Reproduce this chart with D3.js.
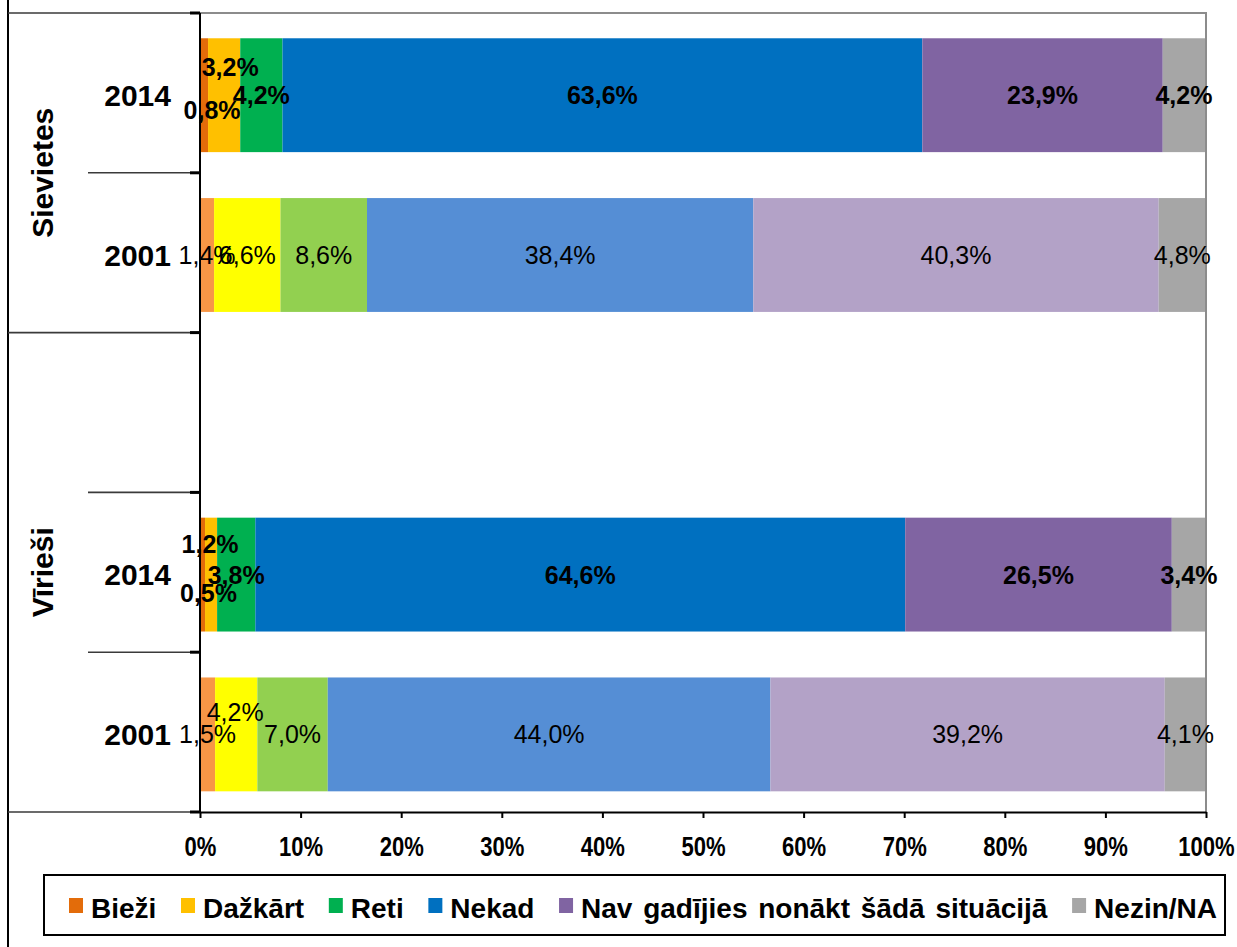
<!DOCTYPE html>
<html>
<head>
<meta charset="utf-8">
<script src="https://cdn.jsdelivr.net/npm/d3@7"></script>
<style>
  body { margin: 0; background: #fff; }
  svg { display: block; }
  text { font-family: Arial, "Liberation Sans", sans-serif; fill: #000; }
</style>
</head>
<body>
<svg id="chart"></svg>
<script>
// answer categories (legend order)
var categories = ["Bieži", "Dažkārt", "Reti", "Nekad", "Nav gadījies nonākt šādā situācijā", "Nezin/NA"];

// rows of the category axis, top to bottom (third row is an empty slot)
var rowGroups = ["Sievietes", "Sievietes", "Vīrieši", "Vīrieši", "Vīrieši"];
var rowYears = ["2014", "2001", "", "2014", "2001"];

// shares in %
var sievietes2014 = [0.8, 3.2, 4.2, 63.6, 23.9, 4.2];
var sievietes2001 = [1.4, 6.6, 8.6, 38.4, 40.3, 4.8];
var viriesi2014 = [0.5, 1.2, 3.8, 64.6, 26.5, 3.4];
var viriesi2001 = [1.5, 4.2, 7.0, 44.0, 39.2, 4.1];
var rowValues = [sievietes2014, sievietes2001, null, viriesi2014, viriesi2001];

var xTicks = [0, 10, 20, 30, 40, 50, 60, 70, 80, 90, 100];

// colours
var colors2014 = ["#E36C0A", "#FFC000", "#00B050", "#0070C0", "#8064A2", "#A6A6A6"];
var colors2001 = ["#F79646", "#FFFF00", "#92D050", "#558ED5", "#B3A2C7", "#A6A6A6"];

// hand-moved labels of the thin segments (dx, dy in px)
var labelNudges = {
  "0|Bieži": [8, 15],
  "0|Dažkārt": [6, -28],
  "3|Bieži": [6, 18],
  "3|Dažkārt": [-1, -31],
  "4|Dažkārt": [-1, -22]
};

var width = 1237, height = 947;
var plot = {left: 200, right: 1206, top: 13, bottom: 812};

var svg = d3.select("#chart")
    .attr("width", width)
    .attr("height", height);

var x = d3.scaleLinear()
    .domain([0, 100])
    .range([plot.left, plot.right])
    .clamp(true);

var y = d3.scaleBand()
    .domain(d3.range(rowYears.length))
    .range([plot.top, plot.bottom])
    .paddingInner(0.2875)
    .paddingOuter(0.14375)
    .align(0.55);

// row boundaries of the category axis
var rowEdge = d3.scaleLinear()
    .domain([0, rowYears.length])
    .range([plot.top, plot.bottom]);

// build the table for the stack
var table = [];
rowValues.forEach(function(v, i) {
  if (!v) return;
  var o = {row: i};
  categories.forEach(function(c, j) { o[c] = v[j]; });
  table.push(o);
});

var series = d3.stack().keys(categories)(table);

// flat list of segments
var segments = [];
series.forEach(function(s) {
  s.forEach(function(d) { segments.push({d: d, j: s.index, key: s.key, row: d.data.row}); });
});

var fmt = d3.format(".1f");
function pct(v) { return fmt(v).replace(".", ",") + "%"; }

// bars
svg.append("g").selectAll("rect")
    .data(segments)
  .enter().append("rect")
    .attr("x", function(e) { return x(e.d[0]); })
    .attr("width", function(e) { return x(e.d[1]) - x(e.d[0]); })
    .attr("y", function(e) { return y(e.row); })
    .attr("height", y.bandwidth())
    .attr("fill", function(e) {
      return rowYears[e.row] == "2014" ? colors2014[e.j] : colors2001[e.j];
    });

// plot area border (top, right)
svg.append("path")
    .attr("d", "M" + plot.left + "," + plot.top + "H" + plot.right + "V" + plot.bottom)
    .attr("fill", "none")
    .attr("stroke", "#8c8c8c")
    .attr("stroke-width", 2);

// data labels, drawn after all the bars
svg.append("g").selectAll("text")
    .data(segments)
  .enter().append("text")
    .attr("x", function(e) {
      var n = labelNudges[e.row + "|" + e.key];
      return (x(e.d[0]) + x(e.d[1])) / 2 + (n ? n[0] : 0);
    })
    .attr("y", function(e) {
      var n = labelNudges[e.row + "|" + e.key];
      return y(e.row) + y.bandwidth() / 2 + (n ? n[1] : 0);
    })
    .attr("dy", "0.36em")
    .attr("text-anchor", "middle")
    .style("font-size", "25px")
    .style("font-weight", function(e) { return rowYears[e.row] == "2014" ? "bold" : "normal"; })
    .text(function(e) { return pct(e.d.data[e.key]); });

// x axis
var xAxis = svg.append("g")
    .attr("transform", "translate(0," + plot.bottom + ")")
    .call(d3.axisBottom(x).tickValues(xTicks).tickSize(6).tickSizeOuter(0)
      .tickFormat(function(d) { return d + "%"; }));

xAxis.select(".domain").attr("stroke", "#000").attr("stroke-width", 2);
xAxis.selectAll(".tick line").attr("stroke", "#000").attr("stroke-width", 2);
xAxis.selectAll(".tick text")
    .attr("y", null)
    .attr("dy", null)
    .attr("transform", "translate(0,44) scale(1.05,1.3)")
    .style("font-size", "21px")
    .style("font-weight", "bold")
    .style("font-family", "Arial, 'Liberation Sans', sans-serif");

// category axis
var cat = svg.append("g");

cat.append("line")
    .attr("x1", plot.left).attr("x2", plot.left)
    .attr("y1", plot.top).attr("y2", plot.bottom)
    .attr("stroke", "#000").attr("stroke-width", 2);

// outer frame line
cat.append("line")
    .attr("x1", 8).attr("x2", 8)
    .attr("y1", 0).attr("y2", height)
    .attr("stroke", "#000").attr("stroke-width", 2);

d3.range(rowYears.length + 1).forEach(function(i) {
  var yy = rowEdge(i);
  var groupEdge = i == 0 || i == rowYears.length || rowGroups[i] != rowGroups[i - 1];
  cat.append("line")
      .attr("x1", groupEdge ? 8 : 88).attr("x2", plot.left)
      .attr("y1", yy).attr("y2", yy)
      .attr("stroke", "#3a3a3a").attr("stroke-width", 1.6);
  cat.append("line")
      .attr("x1", plot.left - 10).attr("x2", plot.left)
      .attr("y1", yy).attr("y2", yy)
      .attr("stroke", "#000").attr("stroke-width", 3);
});

cat.selectAll(".year")
    .data(rowYears)
  .enter().append("text")
    .attr("class", "year")
    .attr("x", 171)
    .attr("y", function(d, i) { return y(i) + y.bandwidth() / 2; })
    .attr("dy", "0.36em")
    .attr("text-anchor", "end")
    .style("font-size", "30px")
    .style("font-weight", "bold")
    .text(function(d) { return d; });

var groups = Array.from(new Set(rowGroups));
cat.selectAll(".group")
    .data(groups)
  .enter().append("text")
    .attr("class", "group")
    .attr("transform", function(g) {
      var idx = d3.range(rowGroups.length).filter(function(i) { return rowGroups[i] == g; });
      var cy = (rowEdge(d3.min(idx)) + rowEdge(d3.max(idx) + 1)) / 2;
      return "translate(53," + cy + ") rotate(-90)";
    })
    .attr("text-anchor", "middle")
    .style("font-size", "30px")
    .style("font-weight", "bold")
    .text(function(g) { return g; });

// legend
var legendBox = {x: 44, y: 875, w: 1181, h: 60};
svg.append("rect")
    .attr("x", legendBox.x).attr("y", legendBox.y)
    .attr("width", legendBox.w).attr("height", legendBox.h)
    .attr("fill", "#fff").attr("stroke", "#000").attr("stroke-width", 2);

var legend = svg.append("g");
var items = legend.selectAll("g")
    .data(categories)
  .enter().append("g");

items.append("rect")
    .attr("width", 14).attr("height", 15)
    .attr("y", 898)
    .attr("fill", function(d, i) { return colors2014[i]; });

items.append("text")
    .attr("x", 22)
    .attr("y", 918)
    .style("font-size", "28px")
    .style("font-weight", "bold")
    .style("word-spacing", "3px")
    .text(function(d) { return d; });

var widths = [];
items.select("text").each(function() { widths.push(this.getComputedTextLength()); });
var startX = 69, endX = 1217;
var used = d3.sum(widths, function(w) { return w + 22; });
var gap = (endX - startX - used) / (categories.length - 1);
var cx = startX;
items.attr("transform", function(d, i) {
  var t = "translate(" + cx + ",0)";
  cx += widths[i] + 22 + gap;
  return t;
});
</script>
</body>
</html>
